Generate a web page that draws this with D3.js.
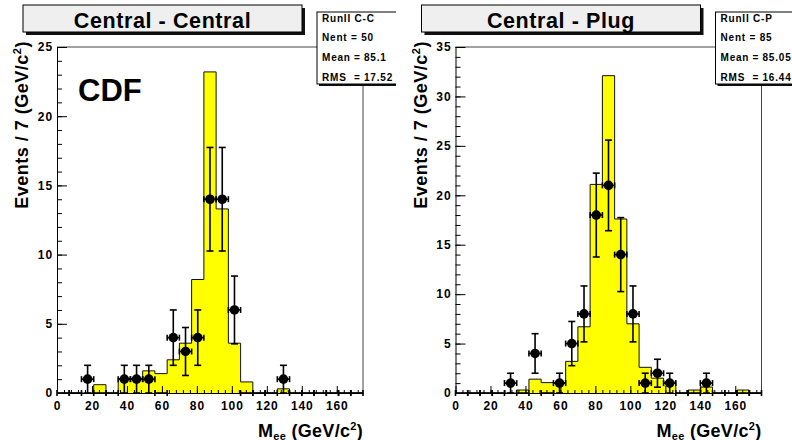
<!DOCTYPE html>
<html>
<head>
<meta charset="utf-8">
<script src="https://cdn.jsdelivr.net/npm/d3@7"></script>
<style>
  html, body { margin: 0; padding: 0; background: #fff; }
  svg { display: block; font-family: "Liberation Sans", Arial, Helvetica, sans-serif; font-weight: bold; }
</style>
</head>
<body>
<svg id="chart" width="792" height="440"></svg>
<script>
// Dielectron invariant mass, 25 bins of 7 GeV/c^2 from 0 to 175
const binWidth = 7;
const massMax = 175;
const xTicks = [0, 20, 40, 60, 80, 100, 120, 140, 160];

// Central - Central: simulation (filled histogram) and data counts per bin
const ccSim  = [0, 0, 0, 0.6, 0, 1.05, 1.05, 1.6, 1.4, 2.4, 3.6, 8.2, 23.2, 13.3, 3.6, 0.8, 0, 0, 0.3, 0, 0, 0, 0, 0, 0];
const ccData = [0, 0, 1, 0, 0, 1, 1, 1, 0, 4, 3, 4, 14, 14, 6, 0, 0, 0, 1, 0, 0, 0, 0, 0, 0];
const ccYTicks = [0, 5, 10, 15, 20, 25];
const ccStatLabels = ["Nent", "Mean", "RMS"];
const ccStatValues = ["50", "85.1", "17.52"];

// Central - Plug
const cpSim  = [0, 0, 0, 0, 0, 0.3, 1.4, 1.05, 1.05, 3.2, 6.7, 21.1, 32.1, 17.6, 7.0, 2.6, 1.5, 1.1, 0, 0.3, 0.6, 0, 0, 0.3, 0];
const cpData = [0, 0, 0, 0, 1, 0, 4, 0, 1, 5, 8, 18, 21, 14, 8, 1, 2, 1, 0, 0, 1, 0, 0, 0, 0];
const cpYTicks = [0, 5, 10, 15, 20, 25, 30, 35];
const cpStatLabels = ["Nent", "Mean", "RMS"];
const cpStatValues = ["85", "85.05", "16.44"];

const svg = d3.select("#chart");
const defs = svg.append("defs");

function drawPanel(p) {
  const ox = p.ox;
  defs.append("clipPath").attr("id", p.id + "-clip")
    .append("rect").attr("x", ox).attr("y", 0).attr("width", p.clipW).attr("height", 440);
  const g = svg.append("g").attr("clip-path", `url(#${p.id}-clip)`);

  const x = d3.scaleLinear().domain([0, massMax]).range([ox + 57, ox + 363]);
  const y = d3.scaleLinear().domain([0, p.yMax]).range([393, 47]);
  const [fx0, fx1] = x.range();

  // simulated histogram: yellow fill with step outline
  const pts = p.sim.map((v, i) => ({ m: i * binWidth, v }));
  pts.push({ m: massMax, v: p.sim[p.sim.length - 1] });
  g.append("path").datum(pts)
    .attr("fill", "#ffff00")
    .attr("d", d3.area().x(d => x(d.m)).y0(y(0)).y1(d => y(d.v)).curve(d3.curveStepAfter));
  g.append("path").datum(pts)
    .attr("fill", "none").attr("stroke", "#111").attr("stroke-width", 1)
    .attr("d", d3.line().x(d => x(d.m)).y(d => y(d.v)).curve(d3.curveStepAfter));

  // frame top and right edges
  g.append("path")
    .attr("d", `M${fx0},47H${fx1}V393`)
    .attr("fill", "none").attr("stroke", "#444").attr("stroke-width", 1);

  const tickFont = sel => sel.selectAll("text")
    .attr("font-family", "'Liberation Sans', Arial, sans-serif")
    .attr("font-weight", "bold").attr("font-size", 12)
    .attr("letter-spacing", 0.9).attr("fill", "#000");

  // y axis: majors every 5, minors every 1, ticks pointing into the frame
  const yMinor = d3.range(0, p.yMax + 0.5, 1);
  g.append("g").attr("transform", `translate(${fx0},0)`)
    .call(d3.axisLeft(y).tickValues(yMinor).tickSize(-5).tickSizeOuter(0).tickFormat(""))
    .call(a => a.select(".domain").remove());
  g.append("g").attr("transform", `translate(${fx0},0)`)
    .call(d3.axisLeft(y).tickValues(p.yTicks).tickSize(-10).tickSizeOuter(0).tickPadding(4))
    .call(tickFont);

  // x axis: majors every 20, minors every 4, ticks pointing up
  const xMinor = d3.range(0, massMax + 0.5, 4);
  g.append("g").attr("transform", `translate(0,393)`)
    .call(d3.axisBottom(x).tickValues(xMinor).tickSize(-3).tickSizeOuter(0).tickFormat(""))
    .call(a => a.select(".domain").remove());
  g.append("g").attr("transform", `translate(0,393)`)
    .call(d3.axisBottom(x).tickValues(xTicks).tickSize(-7).tickSizeOuter(0).tickPadding(8))
    .call(tickFont);
  g.selectAll(".tick line").attr("stroke", "#000");
  g.selectAll(".domain").attr("stroke", "#000");

  // data points with sqrt(N) errors and bin-width horizontal bars
  const pg = g.append("g").attr("stroke", "#000").attr("stroke-width", 1.6).attr("fill", "#000");
  p.data.forEach((n, i) => {
    const lo = x(i * binWidth), hi = x((i + 1) * binWidth), c = x(i * binWidth + binWidth / 2);
    const cy = y(n);
    pg.append("line").attr("x1", lo).attr("x2", hi).attr("y1", cy).attr("y2", cy);
    pg.append("line").attr("x1", lo).attr("x2", lo).attr("y1", cy - 3).attr("y2", cy + 3);
    pg.append("line").attr("x1", hi).attr("x2", hi).attr("y1", cy - 3).attr("y2", cy + 3);
    if (n > 0) {
      const e = Math.sqrt(n);
      const top = y(n + e), bot = y(Math.max(0, n - e));
      pg.append("line").attr("x1", c).attr("x2", c).attr("y1", top).attr("y2", bot);
      pg.append("line").attr("x1", c - 3.5).attr("x2", c + 3.5).attr("y1", top).attr("y2", top);
      pg.append("line").attr("x1", c - 3.5).attr("x2", c + 3.5).attr("y1", bot).attr("y2", bot);
      pg.append("circle").attr("cx", c).attr("cy", cy).attr("r", 4.8).attr("stroke", "none");
    }
  });

  // statistics box
  const sx = ox + 317, sy = 12, sw = 110, sh = 72;
  g.append("rect").attr("x", sx + 2).attr("y", sy + 2).attr("width", sw).attr("height", sh).attr("fill", "#111");
  g.append("rect").attr("x", sx).attr("y", sy).attr("width", sw).attr("height", sh)
    .attr("fill", "#fff").attr("stroke", "#000").attr("stroke-width", 1);
  const st = g.append("g").attr("font-size", 10).attr("letter-spacing", 0.8).attr("fill", "#000");
  st.append("text").attr("x", sx + 5).attr("y", 22).text(p.statName);
  st.append("text").attr("x", sx + 5).attr("y", 41).text(`${p.statLabels[0]} = ${p.statValues[0]}`);
  [1, 2].forEach((k, j) => {
    const yy = 61 + j * 19.5;
    st.append("text").attr("x", sx + 5).attr("y", yy).text(p.statLabels[k]);
    st.append("text").attr("x", sx + 37).attr("y", yy).text("=");
    st.append("text").attr("x", sx + 47).attr("y", yy).text(p.statValues[k]);
  });

  // title box with shadow
  const tx = ox + 23, ty = 5, tw = 279, th = 27;
  g.append("rect").attr("x", tx + 3).attr("y", ty + 3).attr("width", tw).attr("height", th).attr("fill", "#111");
  g.append("rect").attr("x", tx).attr("y", ty).attr("width", tw).attr("height", th)
    .attr("fill", "#efefef").attr("stroke", "#000").attr("stroke-width", 1);
  g.append("text").attr("x", tx + tw / 2).attr("y", 28)
    .attr("text-anchor", "middle").attr("font-size", 21.5).attr("letter-spacing", 0.6)
    .text(p.title);

  // axis titles
  const yt = g.append("text")
    .attr("transform", `translate(${ox + 28},41) rotate(-90)`)
    .attr("text-anchor", "end").attr("font-size", 18).attr("letter-spacing", 0.5);
  yt.append("tspan").text("Events / 7 (GeV/c");
  yt.append("tspan").attr("font-size", 11).attr("dy", -7).text("2");
  yt.append("tspan").attr("dy", 7).text(")");

  const xt = g.append("text")
    .attr("x", fx1).attr("y", 436.5)
    .attr("text-anchor", "end").attr("font-size", 18).attr("letter-spacing", 0.3);
  xt.append("tspan").text("M");
  xt.append("tspan").attr("font-size", 11).attr("dy", 3).text("ee");
  xt.append("tspan").attr("dy", -3).text(" (GeV/c");
  xt.append("tspan").attr("font-size", 11).attr("dy", -7).text("2");
  xt.append("tspan").attr("dy", 7).text(")");

  if (p.label) {
    g.append("text").attr("x", ox + 78).attr("y", 100.5)
      .attr("font-size", 31).text(p.label);
  }
}

drawPanel({ id: "cc", ox: 0, clipW: 396, yMax: 25, yTicks: ccYTicks, sim: ccSim, data: ccData,
  title: "Central - Central", statName: "RunII C-C", statLabels: ccStatLabels, statValues: ccStatValues, label: "CDF" });
drawPanel({ id: "cp", ox: 398.5, clipW: 394, yMax: 35, yTicks: cpYTicks, sim: cpSim, data: cpData,
  title: "Central - Plug", statName: "RunII C-P", statLabels: cpStatLabels, statValues: cpStatValues });
</script>
</body>
</html>
